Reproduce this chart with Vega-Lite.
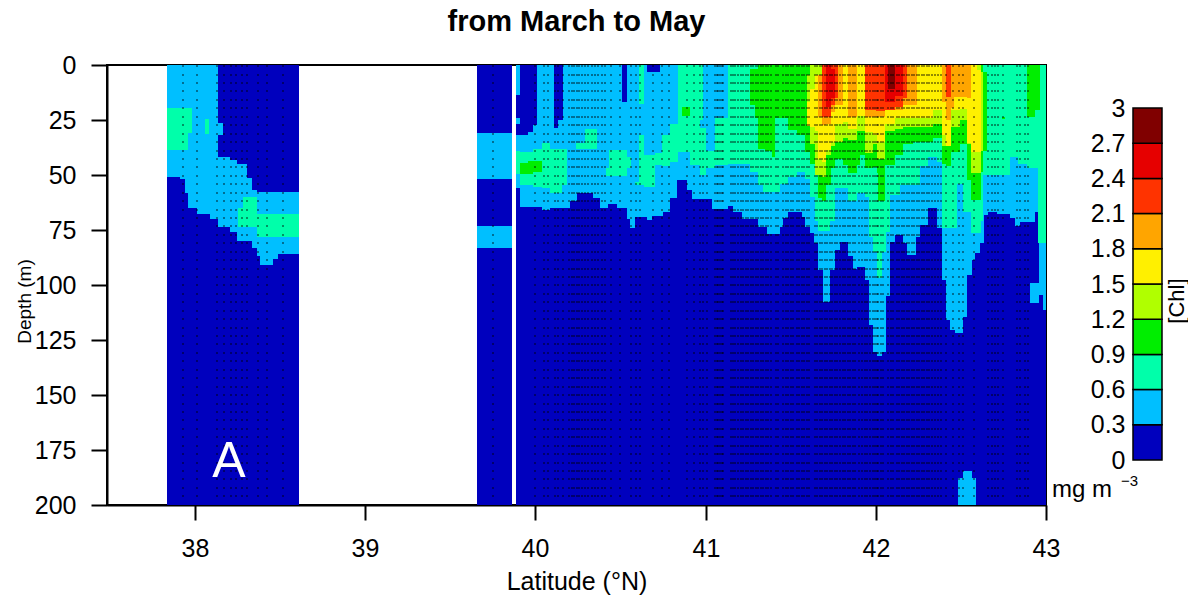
{"$schema":"https://vega.github.io/schema/vega-lite/v6.json","padding":{"left":14,"top":7,"right":0,"bottom":0},"background":"white","bounds":"flush","config":{"font":"Liberation Sans","view":{"stroke":null},"axis":{"grid":false,"labelColor":"black","titleColor":"black","tickColor":"black","domainColor":"black","titleFontWeight":"normal"},"legend":{"disable":true}},
"datasets":{"cells":[
{"lat0":37.834,"lat1":38.611,"d0":0,"d1":200,"chl":0.15},
{"lat0":39.657,"lat1":39.862,"d0":0,"d1":200,"chl":0.15},
{"lat0":39.886,"lat1":43,"d0":0,"d1":200,"chl":0.15},
{"lat0":37.834,"lat1":37.912,"d0":0,"d1":51,"chl":0.45},
{"lat0":37.912,"lat1":37.941,"d0":0,"d1":52,"chl":0.45},
{"lat0":37.941,"lat1":37.961,"d0":0,"d1":58,"chl":0.45},
{"lat0":37.961,"lat1":38.01,"d0":0,"d1":65,"chl":0.45},
{"lat0":38.01,"lat1":38.088,"d0":0,"d1":67.5,"chl":0.45},
{"lat0":38.088,"lat1":38.133,"d0":0,"d1":70,"chl":0.45},
{"lat0":38.133,"lat1":38.163,"d0":26.5,"d1":32,"chl":0.45},
{"lat0":38.133,"lat1":38.206,"d0":42,"d1":73.5,"chl":0.45},
{"lat0":38.206,"lat1":38.245,"d0":43,"d1":76,"chl":0.45},
{"lat0":38.245,"lat1":38.304,"d0":45,"d1":80,"chl":0.45},
{"lat0":38.304,"lat1":38.333,"d0":51.5,"d1":80,"chl":0.45},
{"lat0":38.333,"lat1":38.363,"d0":57,"d1":83,"chl":0.45},
{"lat0":38.363,"lat1":38.382,"d0":57.6,"d1":87,"chl":0.45},
{"lat0":38.382,"lat1":38.46,"d0":57.6,"d1":91,"chl":0.45},
{"lat0":38.46,"lat1":38.49,"d0":57.6,"d1":88,"chl":0.45},
{"lat0":38.49,"lat1":38.611,"d0":57.6,"d1":86,"chl":0.45},
{"lat0":39.657,"lat1":39.862,"d0":31,"d1":52,"chl":0.45},
{"lat0":39.657,"lat1":39.862,"d0":73,"d1":83,"chl":0.45},
{"lat0":39.886,"lat1":39.91,"d0":0,"d1":13.7,"chl":0.45},
{"lat0":39.886,"lat1":39.91,"d0":24.3,"d1":26.6,"chl":0.45},
{"lat0":39.886,"lat1":39.91,"d0":31.6,"d1":56,"chl":0.45},
{"lat0":39.91,"lat1":39.959,"d0":32,"d1":64.4,"chl":0.45},
{"lat0":39.959,"lat1":39.988,"d0":30.3,"d1":64.4,"chl":0.45},
{"lat0":39.988,"lat1":40.008,"d0":27.3,"d1":64.4,"chl":0.45},
{"lat0":40.008,"lat1":40.037,"d0":0,"d1":64.4,"chl":0.45},
{"lat0":40.037,"lat1":40.086,"d0":0,"d1":66,"chl":0.45},
{"lat0":40.086,"lat1":40.11,"d0":0,"d1":65,"chl":0.45},
{"lat0":40.11,"lat1":40.135,"d0":28.5,"d1":65,"chl":0.45},
{"lat0":40.135,"lat1":40.16,"d0":25,"d1":65,"chl":0.45},
{"lat0":40.16,"lat1":40.204,"d0":0,"d1":65,"chl":0.45},
{"lat0":40.204,"lat1":40.243,"d0":0,"d1":62,"chl":0.45},
{"lat0":40.243,"lat1":40.341,"d0":0,"d1":58,"chl":0.45},
{"lat0":40.341,"lat1":40.38,"d0":0,"d1":60.6,"chl":0.45},
{"lat0":40.38,"lat1":40.429,"d0":0,"d1":65,"chl":0.45},
{"lat0":40.429,"lat1":40.478,"d0":0,"d1":63,"chl":0.45},
{"lat0":40.478,"lat1":40.509,"d0":0,"d1":65,"chl":0.45},
{"lat0":40.509,"lat1":40.536,"d0":16.7,"d1":65,"chl":0.45},
{"lat0":40.536,"lat1":40.556,"d0":0,"d1":70,"chl":0.45},
{"lat0":40.556,"lat1":40.585,"d0":0,"d1":74,"chl":0.45},
{"lat0":40.585,"lat1":40.654,"d0":0,"d1":69,"chl":0.45},
{"lat0":40.654,"lat1":40.683,"d0":3.4,"d1":70.5,"chl":0.45},
{"lat0":40.683,"lat1":40.732,"d0":3.4,"d1":68.5,"chl":0.45},
{"lat0":40.732,"lat1":40.752,"d0":0,"d1":68.5,"chl":0.45},
{"lat0":40.752,"lat1":40.791,"d0":0,"d1":67,"chl":0.45},
{"lat0":40.791,"lat1":40.83,"d0":0,"d1":60.6,"chl":0.45},
{"lat0":40.83,"lat1":40.889,"d0":0,"d1":52.3,"chl":0.45},
{"lat0":40.889,"lat1":40.918,"d0":0,"d1":57,"chl":0.45},
{"lat0":40.918,"lat1":41.036,"d0":0,"d1":61,"chl":0.45},
{"lat0":41.036,"lat1":41.133,"d0":0,"d1":65.5,"chl":0.45},
{"lat0":41.133,"lat1":41.163,"d0":0,"d1":64,"chl":0.45},
{"lat0":41.163,"lat1":41.212,"d0":0,"d1":66.7,"chl":0.45},
{"lat0":41.212,"lat1":41.31,"d0":0,"d1":70,"chl":0.45},
{"lat0":41.31,"lat1":41.359,"d0":0,"d1":73.5,"chl":0.45},
{"lat0":41.359,"lat1":41.437,"d0":0,"d1":77,"chl":0.45},
{"lat0":41.437,"lat1":41.457,"d0":0,"d1":73.5,"chl":0.45},
{"lat0":41.457,"lat1":41.486,"d0":0,"d1":69.7,"chl":0.45},
{"lat0":41.486,"lat1":41.564,"d0":0,"d1":66.7,"chl":0.45},
{"lat0":41.564,"lat1":41.584,"d0":0,"d1":69,"chl":0.45},
{"lat0":41.584,"lat1":41.613,"d0":0,"d1":73.5,"chl":0.45},
{"lat0":41.613,"lat1":41.639,"d0":0,"d1":76.5,"chl":0.45},
{"lat0":41.639,"lat1":41.662,"d0":0,"d1":81,"chl":0.45},
{"lat0":41.662,"lat1":41.692,"d0":0,"d1":93.2,"chl":0.45},
{"lat0":41.692,"lat1":41.731,"d0":0,"d1":107.6,"chl":0.45},
{"lat0":41.731,"lat1":41.76,"d0":0,"d1":93,"chl":0.45},
{"lat0":41.76,"lat1":41.79,"d0":0,"d1":84,"chl":0.45},
{"lat0":41.79,"lat1":41.838,"d0":0,"d1":80.6,"chl":0.45},
{"lat0":41.838,"lat1":41.864,"d0":0,"d1":87,"chl":0.45},
{"lat0":41.864,"lat1":41.887,"d0":0,"d1":92.5,"chl":0.45},
{"lat0":41.887,"lat1":41.936,"d0":0,"d1":91.7,"chl":0.45},
{"lat0":41.936,"lat1":41.962,"d0":0,"d1":97.5,"chl":0.45},
{"lat0":41.962,"lat1":41.985,"d0":0,"d1":118,"chl":0.45},
{"lat0":41.985,"lat1":42.009,"d0":0,"d1":130.3,"chl":0.45},
{"lat0":42.009,"lat1":42.034,"d0":0,"d1":132.3,"chl":0.45},
{"lat0":42.034,"lat1":42.06,"d0":0,"d1":130.3,"chl":0.45},
{"lat0":42.06,"lat1":42.083,"d0":0,"d1":105,"chl":0.45},
{"lat0":42.083,"lat1":42.113,"d0":0,"d1":80.3,"chl":0.45},
{"lat0":42.113,"lat1":42.162,"d0":0,"d1":77.3,"chl":0.45},
{"lat0":42.162,"lat1":42.185,"d0":0,"d1":81,"chl":0.45},
{"lat0":42.185,"lat1":42.236,"d0":0,"d1":86.4,"chl":0.45},
{"lat0":42.236,"lat1":42.26,"d0":0,"d1":78,"chl":0.45},
{"lat0":42.26,"lat1":42.309,"d0":0,"d1":72.8,"chl":0.45},
{"lat0":42.309,"lat1":42.357,"d0":0,"d1":65.2,"chl":0.45},
{"lat0":42.357,"lat1":42.387,"d0":0,"d1":74.3,"chl":0.45},
{"lat0":42.387,"lat1":42.412,"d0":0,"d1":97.5,"chl":0.45},
{"lat0":42.412,"lat1":42.436,"d0":0,"d1":116,"chl":0.45},
{"lat0":42.436,"lat1":42.465,"d0":0,"d1":120.5,"chl":0.45},
{"lat0":42.465,"lat1":42.51,"d0":0,"d1":122,"chl":0.45},
{"lat0":42.51,"lat1":42.534,"d0":0,"d1":114.4,"chl":0.45},
{"lat0":42.534,"lat1":42.563,"d0":0,"d1":95.5,"chl":0.45},
{"lat0":42.563,"lat1":42.583,"d0":0,"d1":88.7,"chl":0.45},
{"lat0":42.583,"lat1":42.612,"d0":0,"d1":85.6,"chl":0.45},
{"lat0":42.612,"lat1":42.636,"d0":0,"d1":81,"chl":0.45},
{"lat0":42.636,"lat1":42.661,"d0":0,"d1":68.2,"chl":0.45},
{"lat0":42.661,"lat1":42.71,"d0":0,"d1":66.7,"chl":0.45},
{"lat0":42.71,"lat1":42.788,"d0":0,"d1":67.5,"chl":0.45},
{"lat0":42.788,"lat1":42.818,"d0":0,"d1":69.7,"chl":0.45},
{"lat0":42.818,"lat1":42.847,"d0":0,"d1":73.2,"chl":0.45},
{"lat0":42.847,"lat1":42.935,"d0":0,"d1":71.2,"chl":0.45},
{"lat0":42.935,"lat1":42.961,"d0":0,"d1":66.7,"chl":0.45},
{"lat0":42.961,"lat1":42.984,"d0":0,"d1":104.6,"chl":0.45},
{"lat0":42.984,"lat1":43,"d0":0,"d1":111.4,"chl":0.45},
{"lat0":42.906,"lat1":42.961,"d0":99,"d1":108,"chl":0.45},
{"lat0":42.483,"lat1":42.512,"d0":187.5,"d1":200,"chl":0.45},
{"lat0":42.512,"lat1":42.565,"d0":184.5,"d1":200,"chl":0.45},
{"lat0":42.565,"lat1":42.589,"d0":187.5,"d1":200,"chl":0.45},
{"lat0":37.834,"lat1":37.961,"d0":19.7,"d1":38.7,"chl":0.75},
{"lat0":37.961,"lat1":37.98,"d0":19.7,"d1":31,"chl":0.75},
{"lat0":38.059,"lat1":38.084,"d0":24.6,"d1":31.5,"chl":0.75},
{"lat0":38.255,"lat1":38.284,"d0":65,"d1":73.5,"chl":0.75},
{"lat0":38.284,"lat1":38.363,"d0":60,"d1":73.5,"chl":0.75},
{"lat0":38.363,"lat1":38.611,"d0":67.5,"d1":78.4,"chl":0.75},
{"lat0":39.886,"lat1":39.91,"d0":39,"d1":49.7,"chl":0.75},
{"lat0":39.91,"lat1":39.988,"d0":39.4,"d1":54.6,"chl":0.75},
{"lat0":39.988,"lat1":40.037,"d0":38,"d1":55.3,"chl":0.75},
{"lat0":40.037,"lat1":40.086,"d0":35.6,"d1":56,"chl":0.75},
{"lat0":40.086,"lat1":40.155,"d0":38,"d1":58.4,"chl":0.75},
{"lat0":40.155,"lat1":40.184,"d0":38,"d1":54.6,"chl":0.75},
{"lat0":40.239,"lat1":40.292,"d0":35.6,"d1":38,"chl":0.75},
{"lat0":40.292,"lat1":40.36,"d0":29,"d1":38,"chl":0.75},
{"lat0":40.415,"lat1":40.435,"d0":47,"d1":50.4,"chl":0.75},
{"lat0":40.435,"lat1":40.536,"d0":38.5,"d1":50.4,"chl":0.75},
{"lat0":40.536,"lat1":40.562,"d0":42,"d1":47,"chl":0.75},
{"lat0":40.585,"lat1":40.611,"d0":53,"d1":54.6,"chl":0.75},
{"lat0":40.611,"lat1":40.638,"d0":0,"d1":17.5,"chl":0.75},
{"lat0":40.611,"lat1":40.638,"d0":31.6,"d1":54.6,"chl":0.75},
{"lat0":40.638,"lat1":40.703,"d0":41,"d1":55.3,"chl":0.75},
{"lat0":40.703,"lat1":40.742,"d0":40,"d1":45.5,"chl":0.75},
{"lat0":40.742,"lat1":40.791,"d0":32,"d1":46,"chl":0.75},
{"lat0":40.791,"lat1":40.84,"d0":27,"d1":44,"chl":0.75},
{"lat0":40.84,"lat1":40.909,"d0":0,"d1":39.4,"chl":0.75},
{"lat0":40.909,"lat1":40.967,"d0":0,"d1":45.5,"chl":0.75},
{"lat0":40.967,"lat1":40.987,"d0":0,"d1":25,"chl":0.75},
{"lat0":40.967,"lat1":41,"d0":28.8,"d1":50,"chl":0.75},
{"lat0":41,"lat1":41.055,"d0":39,"d1":47,"chl":0.75},
{"lat0":41.055,"lat1":41.133,"d0":24.3,"d1":45.5,"chl":0.75},
{"lat0":41.133,"lat1":41.261,"d0":0,"d1":45,"chl":0.75},
{"lat0":41.261,"lat1":41.31,"d0":0,"d1":48.5,"chl":0.75},
{"lat0":41.31,"lat1":41.339,"d0":0,"d1":54.6,"chl":0.75},
{"lat0":41.339,"lat1":41.437,"d0":0,"d1":57.6,"chl":0.75},
{"lat0":41.437,"lat1":41.486,"d0":0,"d1":54,"chl":0.75},
{"lat0":41.486,"lat1":41.535,"d0":0,"d1":51,"chl":0.75},
{"lat0":41.535,"lat1":41.584,"d0":0,"d1":48.5,"chl":0.75},
{"lat0":41.584,"lat1":41.613,"d0":0,"d1":52,"chl":0.75},
{"lat0":41.613,"lat1":41.643,"d0":0,"d1":60,"chl":0.75},
{"lat0":41.643,"lat1":41.662,"d0":0,"d1":71,"chl":0.75},
{"lat0":41.662,"lat1":41.731,"d0":0,"d1":75.3,"chl":0.75},
{"lat0":41.731,"lat1":41.76,"d0":0,"d1":71,"chl":0.75},
{"lat0":41.76,"lat1":41.839,"d0":0,"d1":56,"chl":0.75},
{"lat0":41.839,"lat1":41.888,"d0":0,"d1":62,"chl":0.75},
{"lat0":41.888,"lat1":41.936,"d0":0,"d1":58,"chl":0.75},
{"lat0":41.936,"lat1":41.962,"d0":0,"d1":60,"chl":0.75},
{"lat0":41.962,"lat1":41.985,"d0":0,"d1":78,"chl":0.75},
{"lat0":41.985,"lat1":42.009,"d0":0,"d1":85,"chl":0.75},
{"lat0":42.009,"lat1":42.034,"d0":0,"d1":97,"chl":0.75},
{"lat0":42.034,"lat1":42.06,"d0":0,"d1":85,"chl":0.75},
{"lat0":42.06,"lat1":42.083,"d0":0,"d1":76,"chl":0.75},
{"lat0":42.083,"lat1":42.142,"d0":0,"d1":59,"chl":0.75},
{"lat0":42.142,"lat1":42.26,"d0":0,"d1":54.6,"chl":0.75},
{"lat0":42.26,"lat1":42.309,"d0":0,"d1":46,"chl":0.75},
{"lat0":42.309,"lat1":42.358,"d0":0,"d1":42,"chl":0.75},
{"lat0":42.358,"lat1":42.387,"d0":0,"d1":44,"chl":0.75},
{"lat0":42.387,"lat1":42.48,"d0":0,"d1":74,"chl":0.75},
{"lat0":42.48,"lat1":42.51,"d0":0,"d1":54,"chl":0.75},
{"lat0":42.51,"lat1":42.559,"d0":0,"d1":67,"chl":0.75},
{"lat0":42.559,"lat1":42.616,"d0":0,"d1":76.5,"chl":0.75},
{"lat0":42.616,"lat1":42.632,"d0":0,"d1":71,"chl":0.75},
{"lat0":42.632,"lat1":42.788,"d0":0,"d1":50,"chl":0.75},
{"lat0":42.788,"lat1":42.837,"d0":0,"d1":42,"chl":0.75},
{"lat0":42.837,"lat1":42.886,"d0":0,"d1":45,"chl":0.75},
{"lat0":42.886,"lat1":42.955,"d0":0,"d1":47,"chl":0.75},
{"lat0":42.955,"lat1":43,"d0":0,"d1":81,"chl":0.75},
{"lat0":39.91,"lat1":39.959,"d0":44.7,"d1":49.6,"chl":1.05},
{"lat0":39.959,"lat1":39.988,"d0":43.7,"d1":49.6,"chl":1.05},
{"lat0":39.988,"lat1":40.037,"d0":43.7,"d1":48.5,"chl":1.05},
{"lat0":40.86,"lat1":40.909,"d0":19,"d1":23,"chl":1.05},
{"lat0":41.261,"lat1":41.29,"d0":1.6,"d1":18.2,"chl":1.05},
{"lat0":41.29,"lat1":41.31,"d0":1.6,"d1":24.3,"chl":1.05},
{"lat0":41.31,"lat1":41.349,"d0":0,"d1":38,"chl":1.05},
{"lat0":41.349,"lat1":41.388,"d0":0,"d1":39,"chl":1.05},
{"lat0":41.388,"lat1":41.408,"d0":0,"d1":42,"chl":1.05},
{"lat0":41.408,"lat1":41.486,"d0":0,"d1":24.3,"chl":1.05},
{"lat0":41.486,"lat1":41.535,"d0":0,"d1":29.6,"chl":1.05},
{"lat0":41.535,"lat1":41.584,"d0":0,"d1":32,"chl":1.05},
{"lat0":41.584,"lat1":41.613,"d0":0,"d1":39.4,"chl":1.05},
{"lat0":41.613,"lat1":41.643,"d0":0,"d1":45,"chl":1.05},
{"lat0":41.643,"lat1":41.662,"d0":0,"d1":50,"chl":1.05},
{"lat0":41.662,"lat1":41.682,"d0":0,"d1":60.6,"chl":1.05},
{"lat0":41.682,"lat1":41.707,"d0":0,"d1":62,"chl":1.05},
{"lat0":41.707,"lat1":41.735,"d0":0,"d1":54.6,"chl":1.05},
{"lat0":41.735,"lat1":41.76,"d0":0,"d1":47,"chl":1.05},
{"lat0":41.76,"lat1":41.809,"d0":0,"d1":42.5,"chl":1.05},
{"lat0":41.809,"lat1":41.839,"d0":0,"d1":45.5,"chl":1.05},
{"lat0":41.839,"lat1":41.888,"d0":0,"d1":49,"chl":1.05},
{"lat0":41.888,"lat1":41.907,"d0":0,"d1":45.5,"chl":1.05},
{"lat0":41.907,"lat1":41.936,"d0":0,"d1":41,"chl":1.05},
{"lat0":41.936,"lat1":41.985,"d0":0,"d1":47,"chl":1.05},
{"lat0":41.985,"lat1":42.005,"d0":0,"d1":46.5,"chl":1.05},
{"lat0":42.005,"lat1":42.015,"d0":0,"d1":49,"chl":1.05},
{"lat0":42.015,"lat1":42.054,"d0":0,"d1":62,"chl":1.05},
{"lat0":42.054,"lat1":42.113,"d0":0,"d1":45.5,"chl":1.05},
{"lat0":42.113,"lat1":42.162,"d0":0,"d1":41,"chl":1.05},
{"lat0":42.162,"lat1":42.221,"d0":0,"d1":36,"chl":1.05},
{"lat0":42.221,"lat1":42.338,"d0":0,"d1":35,"chl":1.05},
{"lat0":42.338,"lat1":42.387,"d0":0,"d1":33.4,"chl":1.05},
{"lat0":42.387,"lat1":42.413,"d0":0,"d1":45,"chl":1.05},
{"lat0":42.413,"lat1":42.44,"d0":0,"d1":46,"chl":1.05},
{"lat0":42.44,"lat1":42.495,"d0":0,"d1":39.4,"chl":1.05},
{"lat0":42.495,"lat1":42.534,"d0":0,"d1":36,"chl":1.05},
{"lat0":42.534,"lat1":42.559,"d0":0,"d1":52.3,"chl":1.05},
{"lat0":42.559,"lat1":42.616,"d0":0,"d1":61.4,"chl":1.05},
{"lat0":42.616,"lat1":42.632,"d0":0,"d1":48.5,"chl":1.05},
{"lat0":42.632,"lat1":42.655,"d0":3,"d1":39,"chl":1.05},
{"lat0":42.886,"lat1":42.935,"d0":0,"d1":23.5,"chl":1.05},
{"lat0":42.935,"lat1":42.965,"d0":0,"d1":20.5,"chl":1.05},
{"lat0":42.74,"lat1":42.759,"d0":23.5,"d1":24.5,"chl":1.05},
{"lat0":41.594,"lat1":41.613,"d0":4.6,"d1":17,"chl":1.35},
{"lat0":41.613,"lat1":41.643,"d0":0,"d1":36,"chl":1.35},
{"lat0":41.643,"lat1":41.682,"d0":0,"d1":50,"chl":1.35},
{"lat0":41.682,"lat1":41.707,"d0":0,"d1":51,"chl":1.35},
{"lat0":41.707,"lat1":41.735,"d0":0,"d1":41,"chl":1.35},
{"lat0":41.735,"lat1":41.76,"d0":0,"d1":37,"chl":1.35},
{"lat0":41.76,"lat1":41.809,"d0":0,"d1":35,"chl":1.35},
{"lat0":41.809,"lat1":41.839,"d0":0,"d1":33,"chl":1.35},
{"lat0":41.839,"lat1":41.888,"d0":0,"d1":34,"chl":1.35},
{"lat0":41.888,"lat1":41.936,"d0":0,"d1":30,"chl":1.35},
{"lat0":41.936,"lat1":41.985,"d0":0,"d1":40,"chl":1.35},
{"lat0":41.985,"lat1":42.005,"d0":0,"d1":36,"chl":1.35},
{"lat0":42.005,"lat1":42.054,"d0":0,"d1":42.5,"chl":1.35},
{"lat0":42.054,"lat1":42.113,"d0":0,"d1":30,"chl":1.35},
{"lat0":42.113,"lat1":42.162,"d0":0,"d1":29,"chl":1.35},
{"lat0":42.162,"lat1":42.338,"d0":0,"d1":28,"chl":1.35},
{"lat0":42.338,"lat1":42.387,"d0":0,"d1":27,"chl":1.35},
{"lat0":42.387,"lat1":42.44,"d0":0,"d1":37,"chl":1.35},
{"lat0":42.44,"lat1":42.495,"d0":0,"d1":28,"chl":1.35},
{"lat0":42.495,"lat1":42.534,"d0":0,"d1":25,"chl":1.35},
{"lat0":42.534,"lat1":42.559,"d0":0,"d1":36,"chl":1.35},
{"lat0":42.559,"lat1":42.616,"d0":0,"d1":49,"chl":1.35},
{"lat0":42.616,"lat1":42.632,"d0":3,"d1":39,"chl":1.35},
{"lat0":41.594,"lat1":41.613,"d0":17,"d1":27.5,"chl":1.65},
{"lat0":41.613,"lat1":41.643,"d0":10.7,"d1":28,"chl":1.65},
{"lat0":41.643,"lat1":41.662,"d0":4.6,"d1":30,"chl":1.65},
{"lat0":41.662,"lat1":41.682,"d0":4.6,"d1":42.5,"chl":1.65},
{"lat0":41.682,"lat1":41.707,"d0":0,"d1":44,"chl":1.65},
{"lat0":41.707,"lat1":41.735,"d0":0,"d1":38.7,"chl":1.65},
{"lat0":41.735,"lat1":41.76,"d0":0,"d1":35,"chl":1.65},
{"lat0":41.76,"lat1":41.809,"d0":0,"d1":26.6,"chl":1.65},
{"lat0":41.809,"lat1":41.839,"d0":0,"d1":25.8,"chl":1.65},
{"lat0":41.839,"lat1":41.888,"d0":0,"d1":29,"chl":1.65},
{"lat0":41.888,"lat1":41.936,"d0":0,"d1":23,"chl":1.65},
{"lat0":41.936,"lat1":41.985,"d0":0,"d1":30.3,"chl":1.65},
{"lat0":41.985,"lat1":42.005,"d0":0,"d1":32,"chl":1.65},
{"lat0":42.005,"lat1":42.054,"d0":0,"d1":35,"chl":1.65},
{"lat0":42.054,"lat1":42.113,"d0":0,"d1":26.6,"chl":1.65},
{"lat0":42.113,"lat1":42.338,"d0":0,"d1":24.3,"chl":1.65},
{"lat0":42.338,"lat1":42.387,"d0":0,"d1":20.5,"chl":1.65},
{"lat0":42.387,"lat1":42.413,"d0":0,"d1":32,"chl":1.65},
{"lat0":42.413,"lat1":42.44,"d0":0,"d1":37,"chl":1.65},
{"lat0":42.44,"lat1":42.495,"d0":0,"d1":20.5,"chl":1.65},
{"lat0":42.495,"lat1":42.534,"d0":0,"d1":20,"chl":1.65},
{"lat0":42.534,"lat1":42.559,"d0":0,"d1":35.6,"chl":1.65},
{"lat0":42.559,"lat1":42.593,"d0":0,"d1":39.4,"chl":1.65},
{"lat0":42.593,"lat1":42.616,"d0":2.3,"d1":39.4,"chl":1.65},
{"lat0":41.662,"lat1":41.682,"d0":4.6,"d1":23.5,"chl":1.95},
{"lat0":41.682,"lat1":41.707,"d0":0,"d1":27.3,"chl":1.95},
{"lat0":41.707,"lat1":41.735,"d0":0,"d1":26.6,"chl":1.95},
{"lat0":41.735,"lat1":41.76,"d0":0,"d1":21.3,"chl":1.95},
{"lat0":41.76,"lat1":41.809,"d0":0,"d1":18,"chl":1.95},
{"lat0":41.839,"lat1":41.888,"d0":0,"d1":23.5,"chl":1.95},
{"lat0":41.936,"lat1":42.054,"d0":0,"d1":23.5,"chl":1.95},
{"lat0":42.054,"lat1":42.162,"d0":0,"d1":20.5,"chl":1.95},
{"lat0":42.162,"lat1":42.24,"d0":0,"d1":18,"chl":1.95},
{"lat0":42.387,"lat1":42.413,"d0":0,"d1":16.7,"chl":1.95},
{"lat0":42.413,"lat1":42.44,"d0":0,"d1":25,"chl":1.95},
{"lat0":42.44,"lat1":42.46,"d0":0,"d1":19.7,"chl":1.95},
{"lat0":42.46,"lat1":42.534,"d0":0,"d1":14.5,"chl":1.95},
{"lat0":42.534,"lat1":42.559,"d0":0,"d1":15,"chl":1.95},
{"lat0":41.682,"lat1":41.735,"d0":0,"d1":23.5,"chl":2.25},
{"lat0":41.735,"lat1":41.76,"d0":0,"d1":18,"chl":2.25},
{"lat0":41.76,"lat1":41.78,"d0":0,"d1":15,"chl":2.25},
{"lat0":41.936,"lat1":42,"d0":0,"d1":20.5,"chl":2.25},
{"lat0":42,"lat1":42.054,"d0":0,"d1":21,"chl":2.25},
{"lat0":42.054,"lat1":42.113,"d0":0,"d1":20.5,"chl":2.25},
{"lat0":42.113,"lat1":42.162,"d0":0,"d1":19,"chl":2.25},
{"lat0":42.162,"lat1":42.182,"d0":0,"d1":15,"chl":2.25},
{"lat0":42.413,"lat1":42.44,"d0":0,"d1":14.5,"chl":2.25},
{"lat0":41.707,"lat1":41.735,"d0":0,"d1":19,"chl":2.55},
{"lat0":41.735,"lat1":41.76,"d0":2,"d1":15,"chl":2.55},
{"lat0":42.054,"lat1":42.113,"d0":0,"d1":17,"chl":2.55},
{"lat0":42.113,"lat1":42.162,"d0":0,"d1":14,"chl":2.55},
{"lat0":42.074,"lat1":42.113,"d0":0,"d1":10.7,"chl":2.85}
],
"stations":[{"lat":37.928,"track":1},{"lat":38.01,"track":1},{"lat":38.131,"track":1},{"lat":38.171,"track":1},{"lat":38.21,"track":1},{"lat":38.241,"track":1},{"lat":38.274,"track":1},{"lat":38.304,"track":1},{"lat":38.372,"track":1},{"lat":38.421,"track":1},{"lat":38.519,"track":1},{"lat":39.749,"track":1},{"lat":39.998,"track":1},{"lat":40.051,"track":1},{"lat":40.076,"track":1},{"lat":40.115,"track":1},{"lat":40.135,"track":1},{"lat":40.164,"track":1},{"lat":40.2,"track":1},{"lat":40.213,"track":1},{"lat":40.227,"track":1},{"lat":40.243,"track":1},{"lat":40.258,"track":1},{"lat":40.272,"track":1},{"lat":40.292,"track":1},{"lat":40.311,"track":1},{"lat":40.331,"track":1},{"lat":40.35,"track":1},{"lat":40.37,"track":1},{"lat":40.394,"track":1},{"lat":40.409,"track":1},{"lat":40.442,"track":1},{"lat":40.497,"track":1},{"lat":40.56,"track":1},{"lat":40.589,"track":1},{"lat":40.615,"track":1},{"lat":40.689,"track":1},{"lat":40.742,"track":1},{"lat":40.787,"track":1},{"lat":40.889,"track":1},{"lat":40.932,"track":1},{"lat":40.967,"track":1},{"lat":40.983,"track":1},{"lat":41.007,"track":1},{"lat":41.055,"track":1},{"lat":41.065,"track":1},{"lat":41.075,"track":1},{"lat":41.085,"track":1},{"lat":41.094,"track":1},{"lat":41.104,"track":1},{"lat":41.147,"track":1},{"lat":41.163,"track":1},{"lat":41.173,"track":1},{"lat":41.192,"track":1},{"lat":41.206,"track":1},{"lat":41.222,"track":1},{"lat":41.235,"track":1},{"lat":41.251,"track":1},{"lat":41.265,"track":1},{"lat":41.28,"track":1},{"lat":41.296,"track":1},{"lat":41.31,"track":1},{"lat":41.323,"track":1},{"lat":41.339,"track":1},{"lat":41.353,"track":1},{"lat":41.369,"track":1},{"lat":41.382,"track":1},{"lat":41.414,"track":1},{"lat":41.427,"track":1},{"lat":41.457,"track":1},{"lat":41.472,"track":1},{"lat":41.486,"track":1},{"lat":41.5,"track":1},{"lat":41.515,"track":1},{"lat":41.535,"track":1},{"lat":41.551,"track":1},{"lat":41.564,"track":1},{"lat":41.578,"track":1},{"lat":41.594,"track":1},{"lat":41.609,"track":1},{"lat":41.643,"track":1},{"lat":41.656,"track":1},{"lat":41.672,"track":1},{"lat":41.686,"track":1},{"lat":41.701,"track":1},{"lat":41.715,"track":1},{"lat":41.731,"track":1},{"lat":41.745,"track":1},{"lat":41.76,"track":1},{"lat":41.774,"track":1},{"lat":41.79,"track":1},{"lat":41.805,"track":1},{"lat":41.819,"track":1},{"lat":41.835,"track":1},{"lat":41.848,"track":1},{"lat":41.864,"track":1},{"lat":41.878,"track":1},{"lat":41.903,"track":1},{"lat":41.917,"track":1},{"lat":41.936,"track":1},{"lat":41.95,"track":1},{"lat":41.966,"track":1},{"lat":41.981,"track":1},{"lat":41.995,"track":1},{"lat":42.005,"track":1},{"lat":42.015,"track":1},{"lat":42.03,"track":1},{"lat":42.044,"track":1},{"lat":42.074,"track":1},{"lat":42.089,"track":1},{"lat":42.103,"track":1},{"lat":42.123,"track":1},{"lat":42.138,"track":1},{"lat":42.152,"track":1},{"lat":42.168,"track":1},{"lat":42.181,"track":1},{"lat":42.197,"track":1},{"lat":42.211,"track":1},{"lat":42.225,"track":1},{"lat":42.24,"track":1},{"lat":42.256,"track":1},{"lat":42.27,"track":1},{"lat":42.283,"track":1},{"lat":42.299,"track":1},{"lat":42.315,"track":1},{"lat":42.328,"track":1},{"lat":42.348,"track":1},{"lat":42.367,"track":1},{"lat":42.383,"track":1},{"lat":42.413,"track":1},{"lat":42.456,"track":1},{"lat":42.491,"track":1},{"lat":42.514,"track":1},{"lat":42.577,"track":1},{"lat":42.661,"track":1},{"lat":42.681,"track":1},{"lat":42.7,"track":1},{"lat":42.72,"track":1},{"lat":42.749,"track":1},{"lat":42.828,"track":1},{"lat":42.847,"track":1},{"lat":42.877,"track":1},{"lat":42.896,"track":1}],
"tracks":[{"track":1,"depths":[0.5,4.4,8.2,12,15.9,19.7,23.5,27.4,31.2,35,38.9,42.7,46.5,50.4,54.2,58,61.9,65.7,69.5,73.4,77.2,81,84.9,88.7,92.5,96.4,100.2,104,107.9,111.7,115.5,119.4,123.2,127,130.9,134.7,138.5,142.4,146.2,150,153.9,157.7,161.5,165.4,169.2,173,176.9,180.7,184.5,188.4,192.2,196]}],
"notes":[{"lat":38.2,"depth":180.5,"label":"A","size":50,"color":"white"},{"lat":43.035,"depth":193,"label":"mg m","size":24,"color":"black"},{"lat":43.44,"depth":189,"label":"−3","size":15,"color":"black"}],
"bar":[{"low":0,"high":0.3,"chl":0.15},{"low":0.3,"high":0.6,"chl":0.45},{"low":0.6,"high":0.9,"chl":0.75},{"low":0.9,"high":1.2,"chl":1.05},{"low":1.2,"high":1.5,"chl":1.35},{"low":1.5,"high":1.8,"chl":1.65},{"low":1.8,"high":2.1,"chl":1.95},{"low":2.1,"high":2.4,"chl":2.25},{"low":2.4,"high":2.7,"chl":2.55},{"low":2.7,"high":3,"chl":2.85}]
},
"spacing":87,
"hconcat":[
{"width":939,"height":440,"view":{"stroke":"black","strokeWidth":2},
"title":{"text":"from March to May","fontSize":29,"fontWeight":"bold","anchor":"middle","offset":16,"color":"black"},
"layer":[
{"data":{"name":"cells"},"mark":{"type":"rect"},
"encoding":{
"x":{"field":"lat0","type":"quantitative","scale":{"domain":[37.483,43],"nice":false,"zero":false,"round":true},"axis":{"values":[38,39,40,41,42,43],"title":"Latitude (°N)","labelFontSize":25,"titleFontSize":25,"labelFlush":false,"tickSize":15,"tickWidth":2,"domainWidth":2,"labelPadding":16,"titlePadding":8,"format":"d"}},
"x2":{"field":"lat1"},
"y":{"field":"d0","type":"quantitative","scale":{"domain":[0,200],"reverse":true,"nice":false,"round":true},"axis":{"values":[0,25,50,75,100,125,150,175,200],"title":"Depth (m)","labelFontSize":25,"titleFontSize":19,"tickSize":16,"tickWidth":2,"domainWidth":2,"labelPadding":15,"titleX":-83,"titleY":236,"titleBaseline":"middle","titleAlign":"center","labelFlush":false}},
"y2":{"field":"d1"},
"color":{"field":"chl","type":"quantitative","scale":{"type":"threshold","domain":[0.3,0.6,0.9,1.2,1.5,1.8,2.1,2.4,2.7],"range":["#0000BE","#00BFFF","#00FFAA","#00EE00","#B0FF00","#FFF000","#FFA500","#FF3300","#E60000","#800000"]},"legend":null}
}},
{"data":{"name":"stations"},
"transform":[{"lookup":"track","from":{"data":{"name":"tracks"},"key":"track","fields":["depths"]}},{"flatten":["depths"],"as":["depth"]}],
"mark":{"type":"point","filled":true,"shape":"square","size":2,"color":"black","opacity":0.8},
"encoding":{"x":{"field":"lat","type":"quantitative"},"y":{"field":"depth","type":"quantitative"}}},
{"data":{"name":"notes"},"mark":{"type":"text","align":"left","baseline":"middle"},
"transform":[{"filter":"datum.label != 'A'"}],
"encoding":{"x":{"field":"lat","type":"quantitative"},"y":{"field":"depth","type":"quantitative"},"text":{"field":"label"},"size":{"field":"size","type":"quantitative","scale":null},"color":{"field":"color","type":"nominal","scale":null}}},
{"data":{"name":"notes"},"mark":{"type":"text","align":"center","baseline":"middle"},
"transform":[{"filter":"datum.label == 'A'"}],
"encoding":{"x":{"field":"lat","type":"quantitative"},"y":{"field":"depth","type":"quantitative"},"text":{"field":"label"},"size":{"field":"size","type":"quantitative","scale":null},"color":{"field":"color","type":"nominal","scale":null}}}
],"resolve":{"scale":{"color":"independent"}}},
{"width":29,"height":440,"data":{"name":"bar"},
"title":{"text":"[Chl]","orient":"right","angle":270,"fontSize":22,"fontWeight":"normal","baseline":"middle","anchor":"middle","offset":-12,"color":"black","dy":4,"dx":-16},
"mark":{"type":"rect","stroke":"black","strokeWidth":1.5},
"encoding":{
"y":{"field":"low","type":"quantitative","scale":{"domain":[-0.3835,3.3665],"nice":false,"zero":false},"axis":{"values":[0,0.3,0.6,0.9,1.2,1.5,1.8,2.1,2.4,2.7,3],"format":"~g","title":null,"domain":false,"ticks":false,"labelFontSize":25,"labelPadding":8,"labelFlush":false}},
"y2":{"field":"high"},
"color":{"field":"chl","type":"quantitative","scale":{"type":"threshold","domain":[0.3,0.6,0.9,1.2,1.5,1.8,2.1,2.4,2.7],"range":["#0000BE","#00BFFF","#00FFAA","#00EE00","#B0FF00","#FFF000","#FFA500","#FF3300","#E60000","#800000"]},"legend":null}
}}
]
}
